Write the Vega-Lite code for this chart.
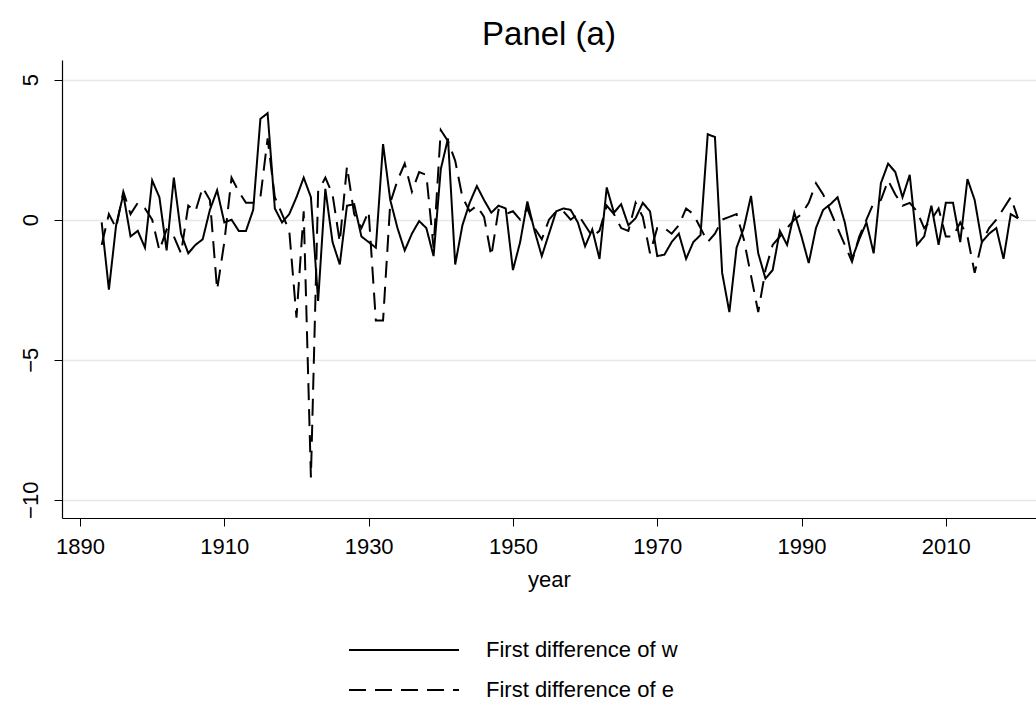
{
  "$schema": "https://vega.github.io/schema/vega-lite/v6.json",
  "width": 974,
  "height": 458,
  "autosize": "none",
  "padding": {"left": 62, "top": 60, "right": 0, "bottom": 190},
  "background": "white",
  "config": {"font": "Liberation Sans", "view": {"stroke": null}},
  "title": {"text": "Panel (a)", "fontSize": 33, "fontWeight": "normal", "color": "black", "anchor": "middle", "offset": 8},
  "data": {"values": [
    {"year":1893,"w":-0.1,"e":-0.9},{"year":1894,"w":-2.5,"e":0.2},{"year":1895,"w":-0.2,"e":-0.3},{"year":1896,"w":0.9,"e":1.0},
    {"year":1897,"w":-0.6,"e":0.2},{"year":1898,"w":-0.4,"e":0.6},{"year":1899,"w":-1.0,"e":0.4},{"year":1900,"w":1.4,"e":0.0},
    {"year":1901,"w":0.8,"e":-1.1},{"year":1902,"w":-1.1,"e":-0.35},{"year":1903,"w":1.5,"e":-0.6},{"year":1904,"w":-0.5,"e":-1.2},
    {"year":1905,"w":-1.2,"e":0.5},{"year":1906,"w":-0.9,"e":0.3},{"year":1907,"w":-0.7,"e":1.15},{"year":1908,"w":0.35,"e":0.7},
    {"year":1909,"w":1.05,"e":-2.5},{"year":1910,"w":-0.1,"e":-0.8},{"year":1911,"w":0.0,"e":1.5},{"year":1912,"w":-0.4,"e":1.0},
    {"year":1913,"w":-0.4,"e":0.6},{"year":1914,"w":0.35,"e":0.6},{"year":1915,"w":3.6,"e":0.8},{"year":1916,"w":3.8,"e":2.9},
    {"year":1917,"w":0.4,"e":0.8},{"year":1918,"w":-0.1,"e":0.2},{"year":1919,"w":0.2,"e":-0.4},{"year":1920,"w":0.8,"e":-3.5},
    {"year":1921,"w":1.5,"e":0.3},{"year":1922,"w":0.8,"e":-9.2},{"year":1923,"w":-2.9,"e":1.0},{"year":1924,"w":1.1,"e":1.5},
    {"year":1925,"w":-0.8,"e":0.9},{"year":1926,"w":-1.6,"e":-0.8},{"year":1927,"w":0.5,"e":1.9},{"year":1928,"w":0.55,"e":0.2},
    {"year":1929,"w":-0.6,"e":-0.3},{"year":1930,"w":-0.8,"e":0.3},{"year":1931,"w":-1.0,"e":-3.6},{"year":1932,"w":2.7,"e":-3.6},
    {"year":1933,"w":0.7,"e":0.6},{"year":1934,"w":-0.3,"e":1.4},{"year":1935,"w":-1.1,"e":2.0},{"year":1936,"w":-0.5,"e":1.0},
    {"year":1937,"w":-0.05,"e":1.7},{"year":1938,"w":-0.3,"e":1.6},{"year":1939,"w":-1.3,"e":-1.0},{"year":1940,"w":1.8,"e":3.2},
    {"year":1941,"w":2.9,"e":2.8},{"year":1942,"w":-1.6,"e":2.1},{"year":1943,"w":-0.2,"e":0.8},{"year":1944,"w":0.6,"e":0.3},
    {"year":1945,"w":1.2,"e":0.5},{"year":1946,"w":0.7,"e":0.1},{"year":1947,"w":0.25,"e":-1.3},{"year":1948,"w":0.5,"e":0.35},
    {"year":1949,"w":0.4,"e":0.2},{"year":1950,"w":-1.8,"e":0.3},{"year":1951,"w":-0.8,"e":0.0},{"year":1952,"w":0.65,"e":0.4},
    {"year":1953,"w":-0.4,"e":-0.3},{"year":1954,"w":-1.3,"e":-0.7},{"year":1955,"w":-0.5,"e":0.0},{"year":1956,"w":0.3,"e":0.3},
    {"year":1957,"w":0.4,"e":0.3},{"year":1958,"w":0.35,"e":0.0},{"year":1959,"w":-0.1,"e":0.2},{"year":1960,"w":-0.95,"e":-0.2},
    {"year":1961,"w":-0.35,"e":-0.6},{"year":1962,"w":-1.4,"e":-0.4},{"year":1963,"w":1.15,"e":0.5},{"year":1964,"w":0.25,"e":0.2},
    {"year":1965,"w":0.55,"e":-0.3},{"year":1966,"w":-0.2,"e":-0.4},{"year":1967,"w":0.05,"e":0.6},{"year":1968,"w":0.6,"e":0.1},
    {"year":1969,"w":0.3,"e":-1.2},{"year":1970,"w":-1.3,"e":-0.3},{"year":1971,"w":-1.25,"e":-0.3},{"year":1972,"w":-0.8,"e":-0.5},
    {"year":1973,"w":-0.5,"e":-0.2},{"year":1974,"w":-1.4,"e":0.4},{"year":1975,"w":-0.8,"e":0.2},{"year":1976,"w":-0.55,"e":-0.3},
    {"year":1977,"w":3.05,"e":-0.8},{"year":1978,"w":2.95,"e":-0.5},{"year":1979,"w":-1.9,"e":0.0},{"year":1980,"w":-3.3,"e":0.1},
    {"year":1981,"w":-1.0,"e":0.2},{"year":1982,"w":-0.3,"e":-0.7},{"year":1983,"w":0.85,"e":-2.0},{"year":1984,"w":-1.2,"e":-3.3},
    {"year":1985,"w":-2.1,"e":-1.8},{"year":1986,"w":-1.8,"e":-0.9},{"year":1987,"w":-0.4,"e":-0.6},{"year":1988,"w":-0.9,"e":-0.3},
    {"year":1989,"w":0.25,"e":0.0},{"year":1990,"w":-0.6,"e":0.2},{"year":1991,"w":-1.55,"e":0.6},{"year":1992,"w":-0.3,"e":1.3},
    {"year":1993,"w":0.35,"e":0.9},{"year":1994,"w":0.55,"e":0.3},{"year":1995,"w":0.8,"e":-0.3},{"year":1996,"w":-0.1,"e":-0.9},
    {"year":1997,"w":-1.4,"e":-1.5},{"year":1998,"w":-0.7,"e":-0.6},{"year":1999,"w":-0.1,"e":0.0},{"year":2000,"w":-1.2,"e":0.6},
    {"year":2001,"w":1.3,"e":0.7},{"year":2002,"w":2.0,"e":1.4},{"year":2003,"w":1.7,"e":0.9},{"year":2004,"w":0.8,"e":0.5},
    {"year":2005,"w":1.6,"e":0.6},{"year":2006,"w":-0.9,"e":0.3},{"year":2007,"w":-0.6,"e":-0.3},{"year":2008,"w":0.5,"e":0.0},
    {"year":2009,"w":-0.9,"e":0.4},{"year":2010,"w":0.6,"e":-0.6},{"year":2011,"w":0.6,"e":-0.6},{"year":2012,"w":-0.8,"e":-0.1},
    {"year":2013,"w":1.45,"e":-0.6},{"year":2014,"w":0.7,"e":-1.9},{"year":2015,"w":-0.8,"e":-0.8},{"year":2016,"w":-0.5,"e":-0.3},
    {"year":2017,"w":-0.3,"e":0.0},{"year":2018,"w":-1.4,"e":0.4},{"year":2019,"w":0.2,"e":0.8},{"year":2020,"w":0.05,"e":0.05}
  ]},
  "transform": [
    {"fold": ["w", "e"], "as": ["var", "value"]},
    {"calculate": "datum.var == 'w' ? 'First difference of w' : 'First difference of e'", "as": "series"}
  ],
  "mark": {"type": "line", "color": "black", "strokeWidth": 2},
  "encoding": {
    "x": {"field": "year", "type": "quantitative",
      "scale": {"domain": [1887.5, 2022.5], "nice": false, "zero": false},
      "axis": {"values": [1890, 1910, 1930, 1950, 1970, 1990, 2010], "format": "d", "grid": false,
        "title": "year", "titleFontSize": 22, "titleFontWeight": "normal", "titleColor": "black", "titlePadding": 12,
        "labelFontSize": 22, "labelColor": "black", "labelPadding": 10, "domainColor": "black", "tickColor": "black", "tickSize": 8, "domainWidth": 1.2}},
    "y": {"field": "value", "type": "quantitative",
      "scale": {"domain": [-10.65, 5.7], "nice": false, "zero": false},
      "axis": {"values": [5, 0, -5, -10], "grid": true, "gridColor": "#e8e8e8", "gridWidth": 1.5, "title": null,
        "labelFontSize": 22, "labelColor": "black", "labelAngle": -90, "labelAlign": "center", "labelBaseline": "bottom", "labelPadding": 12,
        "domainColor": "black", "tickColor": "black", "tickSize": 8, "domainWidth": 1.2}},
    "detail": {"field": "series"},
    "strokeDash": {"field": "series", "type": "nominal",
      "scale": {"domain": ["First difference of w", "First difference of e"], "range": [[1, 0], [17, 9]]},
      "legend": {"title": null, "orient": "none", "legendX": 286, "legendY": 579, "direction": "vertical",
        "symbolType": "stroke", "symbolSize": 12100, "symbolStrokeWidth": 2, "symbolStrokeColor": "black", "clipHeight": 22,
        "labelFontSize": 22, "labelColor": "black", "labelOffset": 26, "labelLimit": 0, "rowPadding": 18}}
  }
}
